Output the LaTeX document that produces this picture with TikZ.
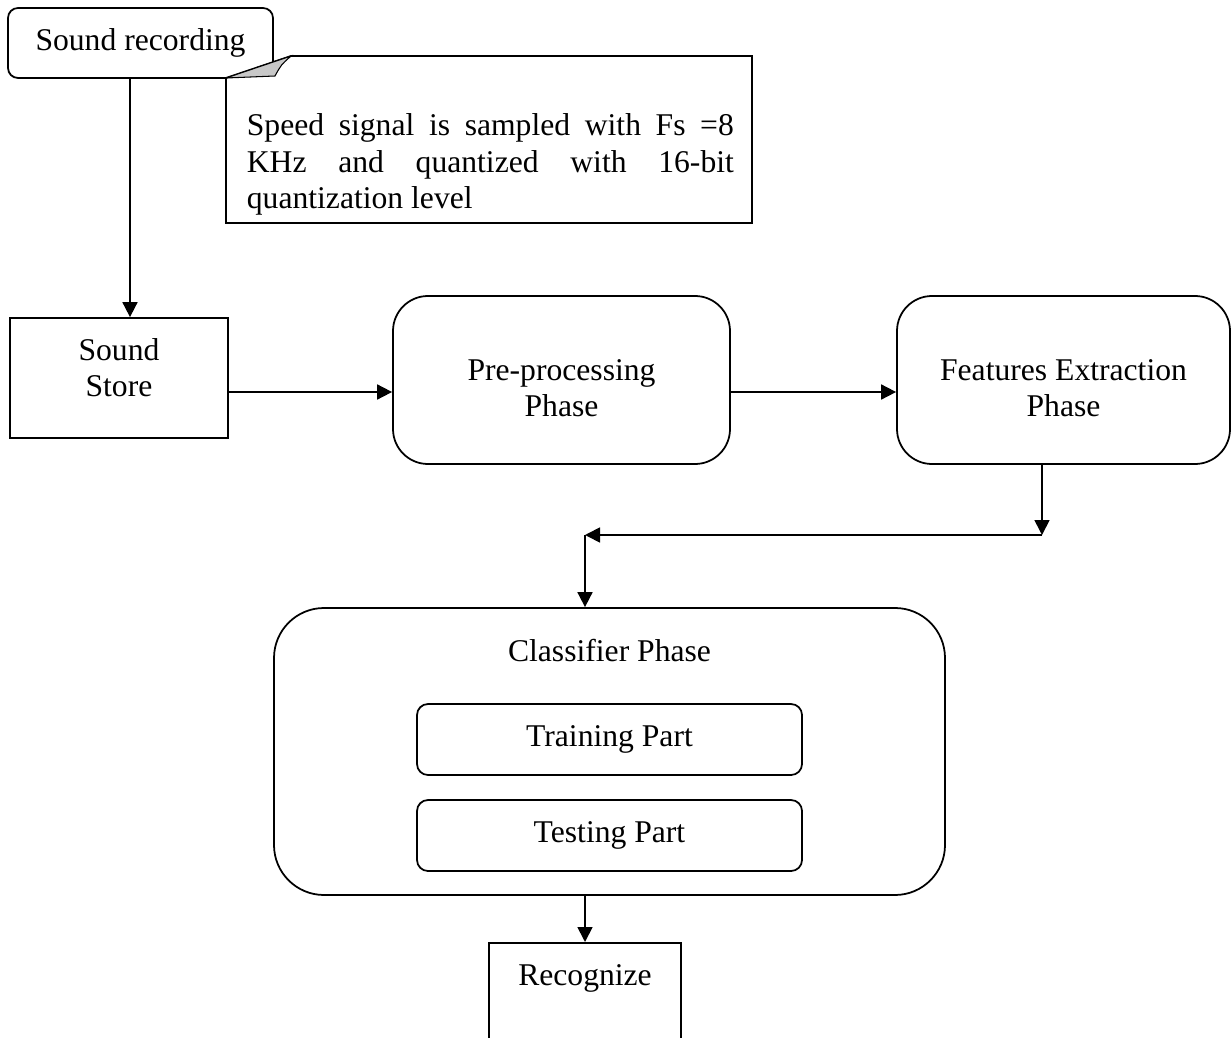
\documentclass[tikz,border=0pt]{standalone}
\usepackage{fontspec}
\setmainfont{Liberation Serif}
\usetikzlibrary{arrows.meta, positioning, calc}
\definecolor{cfold}{HTML}{C8C8C8}
\tikzset{
  every picture/.style={line width=1pt},
  every node/.style={font=\fontsize{18}{20.7}\selectfont},
  plainbox/.style={draw, fill=white, align=center, inner sep=0pt},
  roundbox/.style={plainbox, rounded corners=#1},
  roundbox/.default=0.7cm,
  arrow/.style={-{Triangle[length=0.3cm, width=0.3cm]}, draw},
}

\begin{document}
\begin{tikzpicture}
  \useasboundingbox (0,0) rectangle (24.62,-20.76);
  % recording and its note
  \node[roundbox=0.2cm, minimum width=5.3cm, minimum height=1.4cm] (rec) at (2.81,-0.86) {Sound recording};
  \filldraw[fill=white] (4.52,-1.56) -- (4.52,-4.46) -- (15.04,-4.46) -- (15.04,-1.12) -- (5.82,-1.12) -- cycle;
  \filldraw[fill=cfold, line width=0.6pt] (4.52,-1.56) -- (5.82,-1.12) .. controls (5.62,-1.3) .. (5.5,-1.52) -- cycle;
  \node[anchor=north west, inner sep=0pt, text width=9.74cm, align=justify] (notetxt) at (4.92,-2.26)
    {Speed signal is sampled with Fs =8\linebreak KHz and quantized with 16-bit\linebreak quantization level};
  % top row
  \node[plainbox, minimum width=4.36cm, minimum height=2.4cm] (store) at (2.38,-7.56) {};
  \node[align=center] (storetxt) at ([yshift=0.21cm]store.center) {Sound\\Store};
  \node[roundbox, minimum width=6.74cm, minimum height=3.36cm] (pre) at (11.23,-7.6) {};
  \node[align=center] (pretxt) at ([yshift=-0.16cm]pre.center) {Pre-processing\\Phase};
  \node[roundbox, minimum width=6.66cm, minimum height=3.36cm] (feat) at (21.27,-7.6) {};
  \node[align=center] (feattxt) at ([yshift=-0.16cm]feat.center) {Features Extraction\\Phase};
  % classifier block
  \node[roundbox=1cm, minimum width=13.42cm, minimum height=5.74cm] (cls) at (12.19,-15.03) {};
  \node (clstitle) at (12.19,-13.02) {Classifier Phase};
  \node[roundbox=0.22cm, minimum width=7.7cm, minimum height=1.42cm] (train) at (12.19,-14.79) {Training Part};
  \node[roundbox=0.22cm, minimum width=7.7cm, minimum height=1.42cm] (test) at (12.19,-16.71) {Testing Part};
  \node[plainbox, anchor=north, minimum width=3.84cm, text height=0.86cm, text depth=1.4cm] (recog) at (11.7,-18.84) {Recognize};
  % connectors
  \coordinate (drop) at (2.6,0);
  \coordinate (bendR) at (20.84,-10.7);
  \coordinate (bendL) at (11.7,-10.7);
  \draw[arrow] (rec.south -| drop) -- (store.north -| drop);
  \draw[arrow] ([yshift=-0.28cm]store.east) -- ([yshift=-0.28cm]store.east -| pre.west);
  \draw[arrow] ([yshift=-0.24cm]pre.east) -- ([yshift=-0.24cm]pre.east -| feat.west);
  \draw[arrow] (feat.south -| bendR) -- (bendR);
  \draw[arrow] (bendR) -- (bendL);
  \draw[arrow] (bendL) -- (bendL |- cls.north);
  \draw[arrow] (cls.south -| recog) -- (recog.north);
\end{tikzpicture}
\end{document}
